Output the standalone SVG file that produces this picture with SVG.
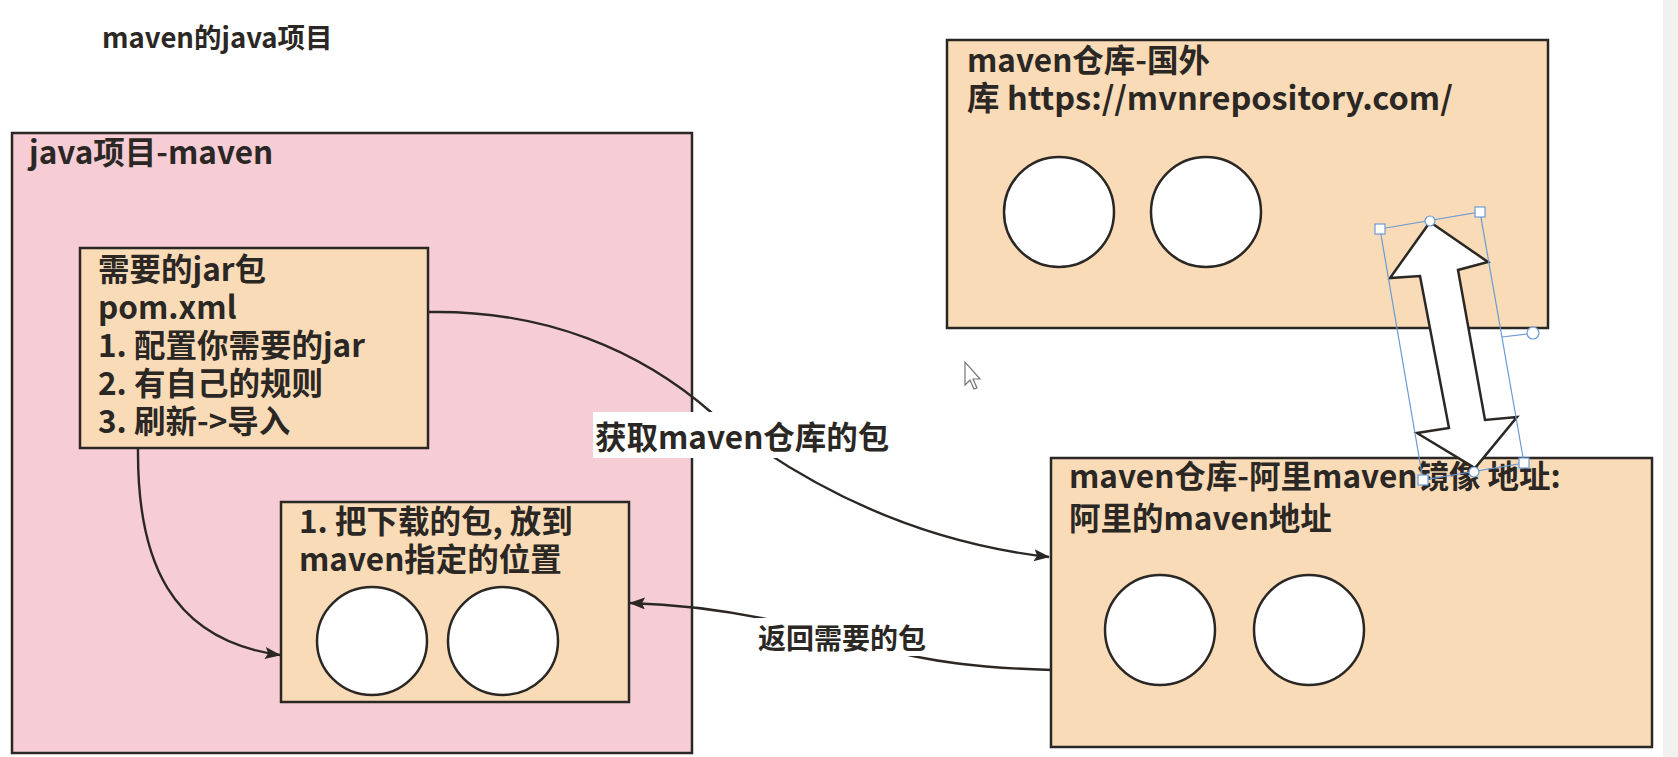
<svg xmlns="http://www.w3.org/2000/svg" width="1678" height="757" viewBox="0 0 1678 757">
<style>
text{font-family:"Noto Sans CJK SC","Noto Sans",sans-serif;font-weight:bold;fill:#2b2724;}
.t{font-size:31.5px;}
.box{fill:#f9dcb7;stroke:#2b2724;stroke-width:2.5;}
.pink{fill:#f6cdd5;stroke:#2b2724;stroke-width:2.5;}
.c{fill:#ffffff;stroke:#2b2724;stroke-width:2.5;}
.con{fill:none;stroke:#2b2724;stroke-width:2.4;}
.sel{fill:none;stroke:#6b9ad6;stroke-width:1.2;}
.h{fill:#ffffff;stroke:#6b9ad6;stroke-width:1.2;}
</style>
<defs>
<marker id="ah" viewBox="0 0 16 12" refX="15" refY="6" markerWidth="16" markerHeight="12" markerUnits="userSpaceOnUse" orient="auto">
<path d="M0,0 L16,6 L0,12 L3,6 z" fill="#2b2724"/>
</marker>
</defs>
<rect x="0" y="0" width="1678" height="757" fill="#ffffff"/>
<rect x="1663" y="0" width="15" height="757" fill="#f1f1f1"/>
<text id="title" x="102" y="48" style="font-size:27.5px">maven的java项目</text>

<g id="java-project">
<rect class="pink" x="12" y="133" width="680" height="620"/>
<text class="t" x="29" y="164">java项目-maven</text>
</g>

<g id="pom">
<rect class="box" x="80" y="248" width="348" height="200"/>
<text class="t" x="98" y="281">需要的jar包<tspan x="98" dy="38">pom.xml</tspan><tspan x="98" dy="38">1. 配置你需要的jar</tspan><tspan x="98" dy="38">2. 有自己的规则</tspan><tspan x="98" dy="38">3. 刷新-&gt;导入</tspan></text>
</g>

<g id="local">
<rect class="box" x="281" y="502" width="348" height="200"/>
<text class="t" x="299" y="533">1. 把下载的包, 放到<tspan x="299" dy="38">maven指定的位置</tspan></text>
<ellipse class="c" cx="372" cy="641" rx="55" ry="54"/>
<ellipse class="c" cx="503" cy="641" rx="55" ry="54"/>
</g>

<g id="remote">
<rect class="box" x="947" y="40" width="601" height="288"/>
<text class="t" x="967" y="72">maven仓库-国外<tspan x="967" dy="38" style="font-size:32.5px">库 https://mvnrepository.com/</tspan></text>
<ellipse class="c" cx="1059" cy="212" rx="55" ry="55"/>
<ellipse class="c" cx="1206" cy="212" rx="55" ry="55"/>
</g>

<g id="aliyun">
<rect class="box" x="1051" y="458" width="601" height="289"/>
<text class="t" x="1069" y="488">maven仓库-阿里maven镜像 地址:<tspan x="1069" dy="42">阿里的maven地址</tspan></text>
<ellipse class="c" cx="1160" cy="630" rx="55" ry="55"/>
<ellipse class="c" cx="1309" cy="630" rx="55" ry="55"/>
</g>

<g id="connectors">
<path class="con" d="M429,312 C545,310 640,350 712,413 C790,475 900,540 1049,557" marker-end="url(#ah)"/>
<path class="con" d="M138,448 C137,560 170,640 280,655" marker-end="url(#ah)"/>
<path class="con" d="M1052,670 C980,668 930,662 880,648 S740,606 630,603" marker-end="url(#ah)"/>
<rect x="593" y="412" width="300" height="46" fill="#ffffff"/>
<text class="t" x="595" y="449">获取maven仓库的包</text>
<rect x="752" y="618" width="178" height="38" fill="#ffffff"/>
<text class="t" x="758" y="649" style="font-size:28px">返回需要的包</text>
</g>

<g id="double-arrow">
<polygon points="1430,222 1488,262 1458,270 1485,420 1517,417 1475,468 1417,433 1449,428 1420,276 1390,278" fill="#ffffff" stroke="#2b2724" stroke-width="2.5" stroke-linejoin="miter"/>
<polygon class="sel" points="1380,229 1480,212 1524,463 1423,480"/>
<line class="sel" x1="1502" y1="337" x2="1527" y2="334"/>
<circle class="h" cx="1533" cy="333" r="6"/>
<rect class="h" x="1375" y="224" width="10" height="10"/>
<rect class="h" x="1475" y="207" width="10" height="10"/>
<rect class="h" x="1519" y="458" width="10" height="10"/>
<rect class="h" x="1418" y="475" width="10" height="10"/>
<circle class="h" cx="1430" cy="221" r="5"/>
<circle class="h" cx="1474" cy="472" r="5"/>
</g>

<g id="cursor">
<path d="M965,362 L965,385 L970,380 L974,389 L977,388 L973,379 L980,379 Z" fill="#ffffff" stroke="#777777" stroke-width="1.2"/>
</g>
</svg>
